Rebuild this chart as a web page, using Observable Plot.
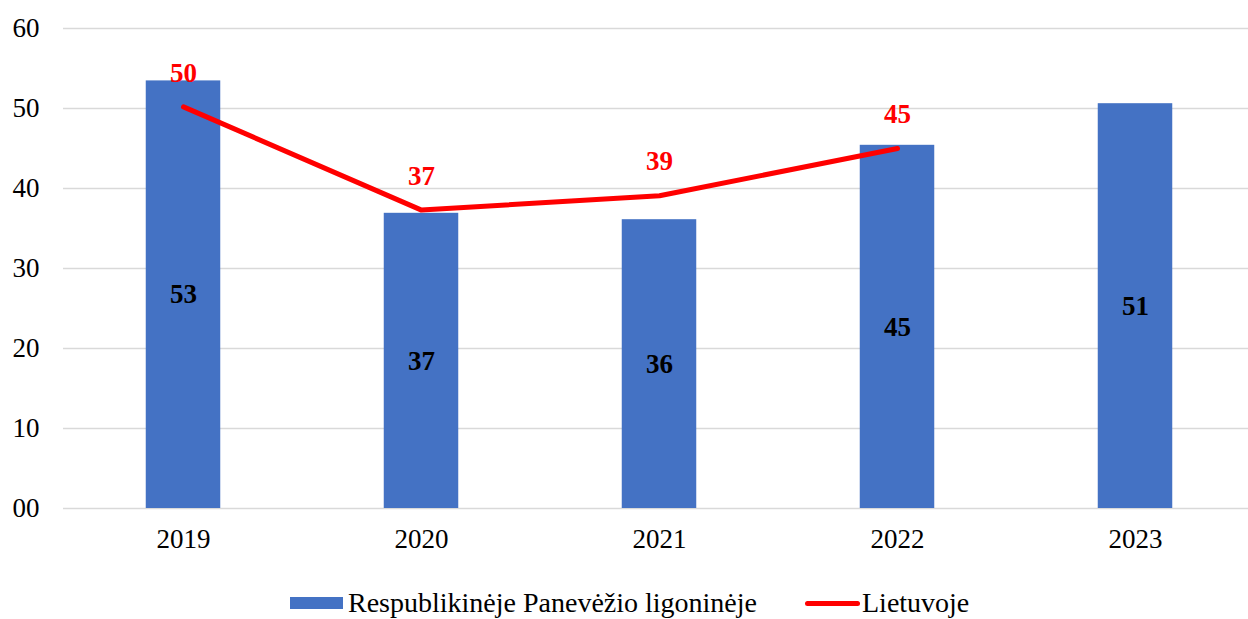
<!DOCTYPE html>
<html><head><meta charset="utf-8">
<script src="https://cdn.jsdelivr.net/npm/d3@7"></script>
<script src="https://cdn.jsdelivr.net/npm/@observablehq/plot@0.6"></script>
<style>
body{margin:0;background:#fff;font-family:"Liberation Serif","Times New Roman",serif;}
#legend{position:absolute;top:586px;left:0;width:1248px;height:34px;}
.item{position:absolute;top:0;display:flex;align-items:center;font-size:28px;color:#000;height:34px;}
</style></head>
<body>
<div id="chart"></div>
<div id="legend">
  <div class="item" style="left:290px"><span style="display:inline-block;width:53px;height:12px;background:#4472C4;margin-right:5px"></span>Respublikinėje Panevėžio ligoninėje</div>
  <div class="item" style="left:805px"><span style="display:inline-block;width:55px;height:5px;border-radius:3px;background:#FF0000;margin-right:2px"></span>Lietuvoje</div>
</div>
<script>
const years = ["2019","2020","2021","2022","2023"];
const hospitalValues = [53.45, 36.9, 36.1, 45.4, 50.6];
const lineYears = ["2019","2020","2021","2022"];
const lithuaniaValues = [50.2, 37.3, 39.1, 45.0];
const yTicks = [0,10,20,30,40,50,60];

const bars = years.map((y,i)=>({year:y, value:hospitalValues[i]}));
const line = lineYears.map((y,i)=>({year:y, value:lithuaniaValues[i]}));

const plot = Plot.plot({
  width: 1248,
  height: 570,
  marginLeft: 63,
  marginRight: 0,
  marginTop: 28,
  marginBottom: 62,
  style: {fontFamily: '"Liberation Serif","Times New Roman",serif', fontSize: "27px", color: "#000", background: "#fff"},
  x: {domain: years, range: [63, 1255.5], padding: 0, label: null},
  y: {domain: [0, 60], label: null},
  marks: [
    Plot.ruleY(yTicks, {stroke: "#d9d9d9", strokeWidth: 1.5}),
    Plot.axisY({ticks: yTicks, tickSize: 0, tickPadding: 24, tickFormat: d => d === 0 ? "00" : String(d), fontSize: 27, label: null}),
    Plot.axisX({tickSize: 0, tickPadding: 20, fontSize: 27, label: null}),
    Plot.barY(bars, {x: "year", y: "value", fill: "#4472C4", insetLeft: 81.75, insetRight: 81.75}),
    Plot.text(bars, {x: "year", y: d => d.value / 2, text: d => String(Math.round(d.value)), fontSize: 27, fontWeight: "bold", fill: "#000"}),
    Plot.line(line, {x: "year", y: "value", stroke: "#FF0000", strokeWidth: 5, curve: "linear"}),
    Plot.text(line, {x: "year", y: "value", text: d => String(Math.round(d.value)), dy: -34, fontSize: 27, fontWeight: "bold", fill: "#FF0000"})
  ]
});
document.getElementById("chart").appendChild(plot);
</script>
</body></html>
